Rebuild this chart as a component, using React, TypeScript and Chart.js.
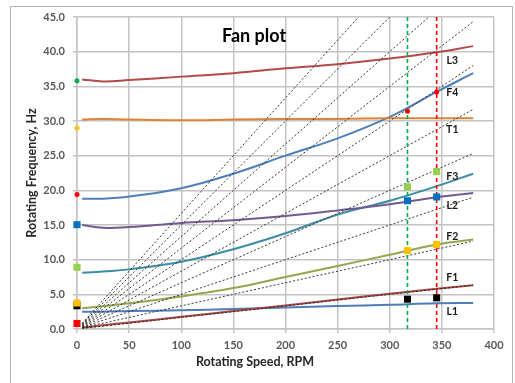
import React, { useEffect, useRef } from "react";
import { Chart, registerables } from "chart.js";

Chart.register(...registerables);

// ---- data ----
const curveRpm = [5, 25, 50, 100, 150, 200, 250, 300, 345, 380];
const L3 = [36.0, 35.7, 35.9, 36.4, 36.9, 37.6, 38.2, 39.0, 39.9, 40.8];
const T1 = [30.2, 30.3, 30.2, 30.1, 30.2, 30.3, 30.3, 30.4, 30.4, 30.4];
const F4 = [18.8, 18.8, 19.1, 20.3, 22.4, 25.0, 27.5, 30.6, 34.2, 36.9];
const L2 = [15.0, 14.6, 14.7, 15.3, 15.7, 16.3, 17.1, 18.0, 19.0, 19.6];
const F3 = [8.1, 8.3, 8.6, 9.7, 11.5, 13.8, 16.5, 18.5, 20.6, 22.4];
const F2 = [3.0, 3.3, 3.7, 4.7, 5.9, 7.5, 9.1, 10.7, 12.2, 12.9];
const F1 = [0.2, 0.55, 0.95, 1.75, 2.6, 3.4, 4.25, 5.1, 5.8, 6.3];
const L1 = [2.5, 2.5, 2.6, 2.7, 2.9, 3.1, 3.3, 3.5, 3.7, 3.75];

// engine-order fan lines: start / end rpm and frequency at those rpm
const fanRpm = [5, 380];
const fanStartHz = [0.08, 0.17, 0.25, 0.33, 0.42, 0.5, 0.58, 0.67, 0.75, 0.83];
const fanEndHz = [6.33, 12.67, 19.0, 25.33, 31.67, 38.0, 44.33, 50.67, 57.0, 63.33];

// measured points
const markerRpm = [0, 317, 345];
const blackSq = [3.35, 4.3, 4.5];
const yellowSq = [3.75, 11.3, 12.2];
const greenSq = [8.9, 20.5, 22.7];
const blueSq = [15.05, 18.5, 19.05];
const redDot = [19.4, 31.4, 34.2];
const redSqAtZero = [0.8];
const yellowDotAtZero = [29.0];
const greenDotAtZero = [35.8];

// operating speed verticals
const opRpm = [317, 345];
const opColors = ["#00B050", "#FF0000"];

// right-hand labels
const labelNames = ["L3", "F4", "T1", "F3", "L2", "F2", "F1", "L1"];
const labelHz = [38.7, 34.1, 28.8, 22.0, 17.8, 13.3, 7.4, 2.5];
const labelRpm = 360;

const xTicks = [0, 50, 100, 150, 200, 250, 300, 350, 400];

const FONT = 'Lato, "Liberation Sans", Arial, sans-serif';

const pts = (xs: number[], ys: number[]) => ys.map((v, i) => ({ x: xs[i], y: v }));

const decor = {
  id: "decor",
  afterDraw(chart: any) {
    const { ctx, scales } = chart;
    const x = scales.x;
    const y = scales.y;
    ctx.save();
    ctx.strokeStyle = "#B4B4B4";
    ctx.lineWidth = 1;
    ctx.strokeRect(10.5, 6.5, 502, 390);

    ctx.fillStyle = "#000";
    ctx.textAlign = "center";
    ctx.textBaseline = "middle";
    ctx.font = `bold 18px ${FONT}`;
    ctx.fillText("Fan plot", 254, 36);

    ctx.fillStyle = "#262626";
    ctx.font = `bold 12.5px ${FONT}`;
    ctx.fillText("Rotating Speed, RPM", 255, 362);
    ctx.save();
    ctx.translate(32, 173);
    ctx.rotate(-Math.PI / 2);
    ctx.fillText("Rotating Frequency, Hz", 0, 0);
    ctx.restore();

    ctx.font = `bold 10.5px ${FONT}`;
    ctx.fillStyle = "#1a1a1a";
    labelNames.forEach((n, i) => {
      ctx.fillText(n, x.getPixelForValue(labelRpm), y.getPixelForValue(labelHz[i]));
    });
    ctx.restore();
  },
};

export default function App() {
  const ref = useRef<HTMLCanvasElement>(null);
  useEffect(() => {
    if (!ref.current) return;
    const curve = (data: number[], color: string) => ({
      data: pts(curveRpm, data),
      showLine: true,
      borderColor: color,
      backgroundColor: color,
      borderWidth: 2,
      pointRadius: 0,
      tension: 0.4,
      order: 4,
    });
    const marker = (xs: number[], ys: number[], color: string, style: string, r: number, order: number) => ({
      data: pts(xs, ys),
      showLine: false,
      pointStyle: style,
      pointRadius: r,
      pointBackgroundColor: color,
      pointBorderColor: color,
      pointBorderWidth: 0,
      clip: false,
      order,
    });
    const fans = fanEndHz.map((end, i) => ({
      data: [
        { x: fanRpm[0], y: fanStartHz[i] },
        { x: fanRpm[1], y: end },
      ],
      showLine: true,
      borderColor: "#222222",
      borderWidth: 0.9,
      borderDash: [2, 2],
      pointRadius: 0,
      order: 3,
    }));
    const verticals = opRpm.map((r, i) => ({
      data: [
        { x: r, y: 0 },
        { x: r, y: 45 },
      ],
      showLine: true,
      borderColor: opColors[i],
      borderWidth: 1.6,
      borderDash: [4, 3],
      pointRadius: 0,
      order: 2,
    }));

    const chart = new Chart(ref.current, {
      type: "scatter",
      data: {
        datasets: [
          marker(markerRpm, yellowSq, "#FFC000", "rect", 5, 0),
          marker(markerRpm, greenSq, "#92D050", "rect", 5, 0),
          marker(markerRpm, blueSq, "#0070C0", "rect", 5, 0),
          marker(markerRpm, redDot, "#FF0000", "circle", 2.5, 0),
          marker([0], redSqAtZero, "#FF0000", "rect", 5, 0),
          marker([0], yellowDotAtZero, "#FFC000", "circle", 2.5, 0),
          marker([0], greenDotAtZero, "#00B050", "circle", 2.5, 0),
          marker(markerRpm, blackSq, "#000000", "rect", 5, 1),
          ...verticals,
          ...fans,
          curve(L3, "#B24B4A"),
          curve(T1, "#DE8236"),
          curve(F4, "#4F7FBA"),
          curve(L2, "#715A92"),
          curve(F3, "#3A8DA4"),
          curve(F2, "#95A64F"),
          curve(F1, "#A94646"),
          curve(L1, "#4D7CB6"),
        ] as any,
      },
      options: {
        responsive: false,
        animation: false,
        layout: { padding: { left: 0, right: 21, top: 17, bottom: 0 } },
        plugins: { legend: { display: false }, tooltip: { enabled: false }, title: { display: false } },
        scales: {
          x: {
            type: "linear",
            min: 0,
            max: 400,
            afterBuildTicks: (s: any) => {
              s.ticks = xTicks.map((v) => ({ value: v }));
            },
            afterFit: (s: any) => {
              s.height = 54;
            },
            grid: { color: "#C4C4C4", lineWidth: 1.5, tickLength: 4, drawTicks: true },
            border: { display: true, color: "#C4C4C4", width: 1.5 },
            ticks: {
              padding: 6,
              color: "#595959",
              font: { family: FONT, size: 11, weight: "bold" },
              maxRotation: 0,
            },
          },
          y: {
            type: "linear",
            min: 0,
            max: 45,
            ticks: {
              stepSize: 5,
              padding: 8,
              color: "#595959",
              font: { family: FONT, size: 11, weight: "bold" },
              callback: (v: any) => Number(v).toFixed(1),
            },
            afterFit: (s: any) => {
              s.width = 77;
            },
            grid: { color: "#C4C4C4", lineWidth: 1.5, tickLength: 4, drawTicks: true },
            border: { display: true, color: "#C4C4C4", width: 1.5 },
          },
        },
      },
      plugins: [decor],
    } as any);
    return () => chart.destroy();
  }, []);

  return (
    <div style={{ position: "absolute", left: 0, top: 0, width: 515, height: 383, background: "#fff" }}>
      <canvas ref={ref} width={515} height={383} style={{ display: "block" }} />
    </div>
  );
}
